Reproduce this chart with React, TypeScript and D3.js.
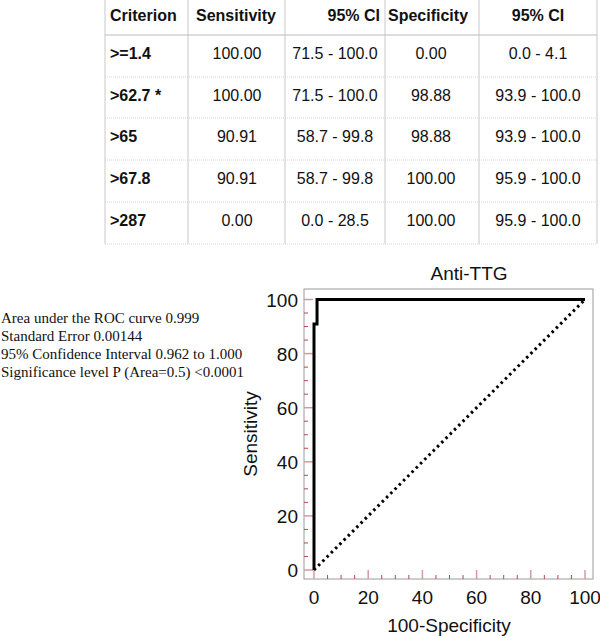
import React, { useRef, useEffect } from 'react';
import * as d3 from 'd3';

const criteria = ['>=1.4', '>62.7 *', '>65', '>67.8', '>287'];
const sensitivity = [100.0, 100.0, 90.91, 90.91, 0.0];
const sensCI = ['71.5 - 100.0', '71.5 - 100.0', '58.7 - 99.8', '58.7 - 99.8', '0.0 - 28.5'];
const specificity = [0.0, 98.88, 98.88, 100.0, 100.0];
const specCI = ['0.0 - 4.1', '93.9 - 100.0', '93.9 - 100.0', '95.9 - 100.0', '95.9 - 100.0'];

const stats = [
  'Area under the ROC curve 0.999',
  'Standard Error 0.00144',
  '95% Confidence Interval 0.962 to 1.000',
  'Significance level P (Area=0.5) <0.0001',
];

const axisTicks = [0, 20, 40, 60, 80, 100];
const minorTicks = d3.range(0, 101, 5);

const App = () => {
  const ref = useRef(null);

  useEffect(() => {
    const svg = d3.select(ref.current);
    svg.selectAll('*').remove();

    const sans = "'Liberation Sans', Arial, sans-serif";

    // ---- table ----
    const table = svg.append('g').attr('font-family', sans).attr('font-size', 16).attr('fill', '#111');
    const colX = [105, 188, 285, 385, 479, 597];
    const rowY = [35, 77, 118, 160, 202, 244];

    table.selectAll('line.v')
      .data(colX)
      .enter().append('line')
      .attr('x1', d => d).attr('x2', d => d)
      .attr('y1', 0).attr('y2', 244)
      .attr('stroke', '#c8c8c8');

    table.selectAll('line.h')
      .data(rowY)
      .enter().append('line')
      .attr('x1', 105).attr('x2', 597)
      .attr('y1', d => d).attr('y2', d => d)
      .attr('stroke', (d, i) => i === 0 ? '#bbbbbb' : '#d6d6d6')
      .attr('stroke-dasharray', (d, i) => i === 0 ? null : '1,1');

    const head = table.append('g').attr('font-weight', 'bold');
    head.append('text').attr('x', 110).attr('y', 21).text('Criterion');
    head.append('text').attr('x', 236).attr('y', 21).attr('text-anchor', 'middle').text('Sensitivity');
    head.append('text').attr('x', 380).attr('y', 21).attr('text-anchor', 'end').text('95% CI');
    head.append('text').attr('x', 388).attr('y', 21).text('Specificity');
    head.append('text').attr('x', 538).attr('y', 21).attr('text-anchor', 'middle').text('95% CI');

    const textY = (i) => rowY[i] + 24;
    criteria.forEach((c, i) => {
      table.append('text').attr('x', 110).attr('y', textY(i)).attr('font-weight', 'bold').text(c);
      table.append('text').attr('x', 237).attr('y', textY(i)).attr('text-anchor', 'middle').text(sensitivity[i].toFixed(2));
      table.append('text').attr('x', 335).attr('y', textY(i)).attr('text-anchor', 'middle').text(sensCI[i]);
      table.append('text').attr('x', 431).attr('y', textY(i)).attr('text-anchor', 'middle').text(specificity[i].toFixed(2));
      table.append('text').attr('x', 538).attr('y', textY(i)).attr('text-anchor', 'middle').text(specCI[i]);
    });

    // ---- stats text ----
    svg.append('g')
      .attr('font-family', "'Liberation Serif', 'Times New Roman', serif")
      .attr('font-size', 15)
      .attr('fill', '#111')
      .selectAll('text')
      .data(stats)
      .enter().append('text')
      .attr('x', 1)
      .attr('y', (d, i) => 323 + i * 18)
      .text(d => d);

    // ---- ROC plot ----
    const x = d3.scaleLinear().domain([0, 100]).range([314, 585]);
    const y = d3.scaleLinear().domain([0, 100]).range([570, 299.5]);
    const frame = { left: 304, right: 593, top: 289, bottom: 579 };

    const plot = svg.append('g').attr('font-family', sans).attr('font-size', 19).attr('fill', '#111');

    plot.append('rect')
      .attr('x', frame.left).attr('y', frame.top)
      .attr('width', frame.right - frame.left).attr('height', frame.bottom - frame.top)
      .attr('fill', 'none').attr('stroke', '#9a9a9a');

    // y ticks
    plot.selectAll('line.ym')
      .data(minorTicks)
      .enter().append('line')
      .attr('x1', frame.left)
      .attr('x2', d => frame.left + (d % 20 === 0 ? 9 : 4))
      .attr('y1', d => y(d)).attr('y2', d => y(d))
      .attr('stroke', d => d % 20 === 0 ? '#d49aa0' : '#b8474f')
      .attr('stroke-width', d => d % 20 === 0 ? 1.5 : 1);

    // x ticks
    plot.selectAll('line.xm')
      .data(minorTicks)
      .enter().append('line')
      .attr('y1', frame.bottom)
      .attr('y2', d => frame.bottom - (d % 20 === 0 ? 9 : 4))
      .attr('x1', d => x(d)).attr('x2', d => x(d))
      .attr('stroke', d => d % 20 === 0 ? '#d49aa0' : '#b8474f')
      .attr('stroke-width', d => d % 20 === 0 ? 1.5 : 1);

    plot.selectAll('text.yl')
      .data(axisTicks)
      .enter().append('text')
      .attr('x', 298)
      .attr('y', d => y(d) + 7)
      .attr('text-anchor', 'end')
      .text(d => d);

    plot.selectAll('text.xl')
      .data(axisTicks)
      .enter().append('text')
      .attr('x', d => x(d))
      .attr('y', 604)
      .attr('text-anchor', 'middle')
      .text(d => d);

    plot.append('text').attr('x', 449).attr('y', 632).attr('text-anchor', 'middle').text('100-Specificity');
    plot.append('text')
      .attr('transform', 'translate(257,434) rotate(-90)')
      .attr('text-anchor', 'middle')
      .text('Sensitivity');
    plot.append('text').attr('x', 469).attr('y', 280).attr('text-anchor', 'middle').text('Anti-TTG');

    // diagonal reference line
    plot.append('line')
      .attr('x1', x(0)).attr('y1', y(0))
      .attr('x2', x(100)).attr('y2', y(100))
      .attr('stroke', '#000')
      .attr('stroke-width', 3)
      .attr('stroke-dasharray', '2.5,3.5');

    // ROC curve from table (reverse order: strictest criterion first)
    const pts = criteria.map((c, i) => [100 - specificity[i], sensitivity[i]]).reverse();
    pts.unshift([0, 0]);
    const line = d3.line().x(d => x(d[0])).y(d => y(d[1]));
    plot.append('path')
      .attr('d', line(pts.slice(1)))
      .attr('fill', 'none')
      .attr('stroke', '#000')
      .attr('stroke-width', 3);
  }, []);

  return <svg ref={ref} width={600} height={637} style={{ position: 'absolute', left: 0, top: 0, background: '#fff' }} />;
};

export default App;
